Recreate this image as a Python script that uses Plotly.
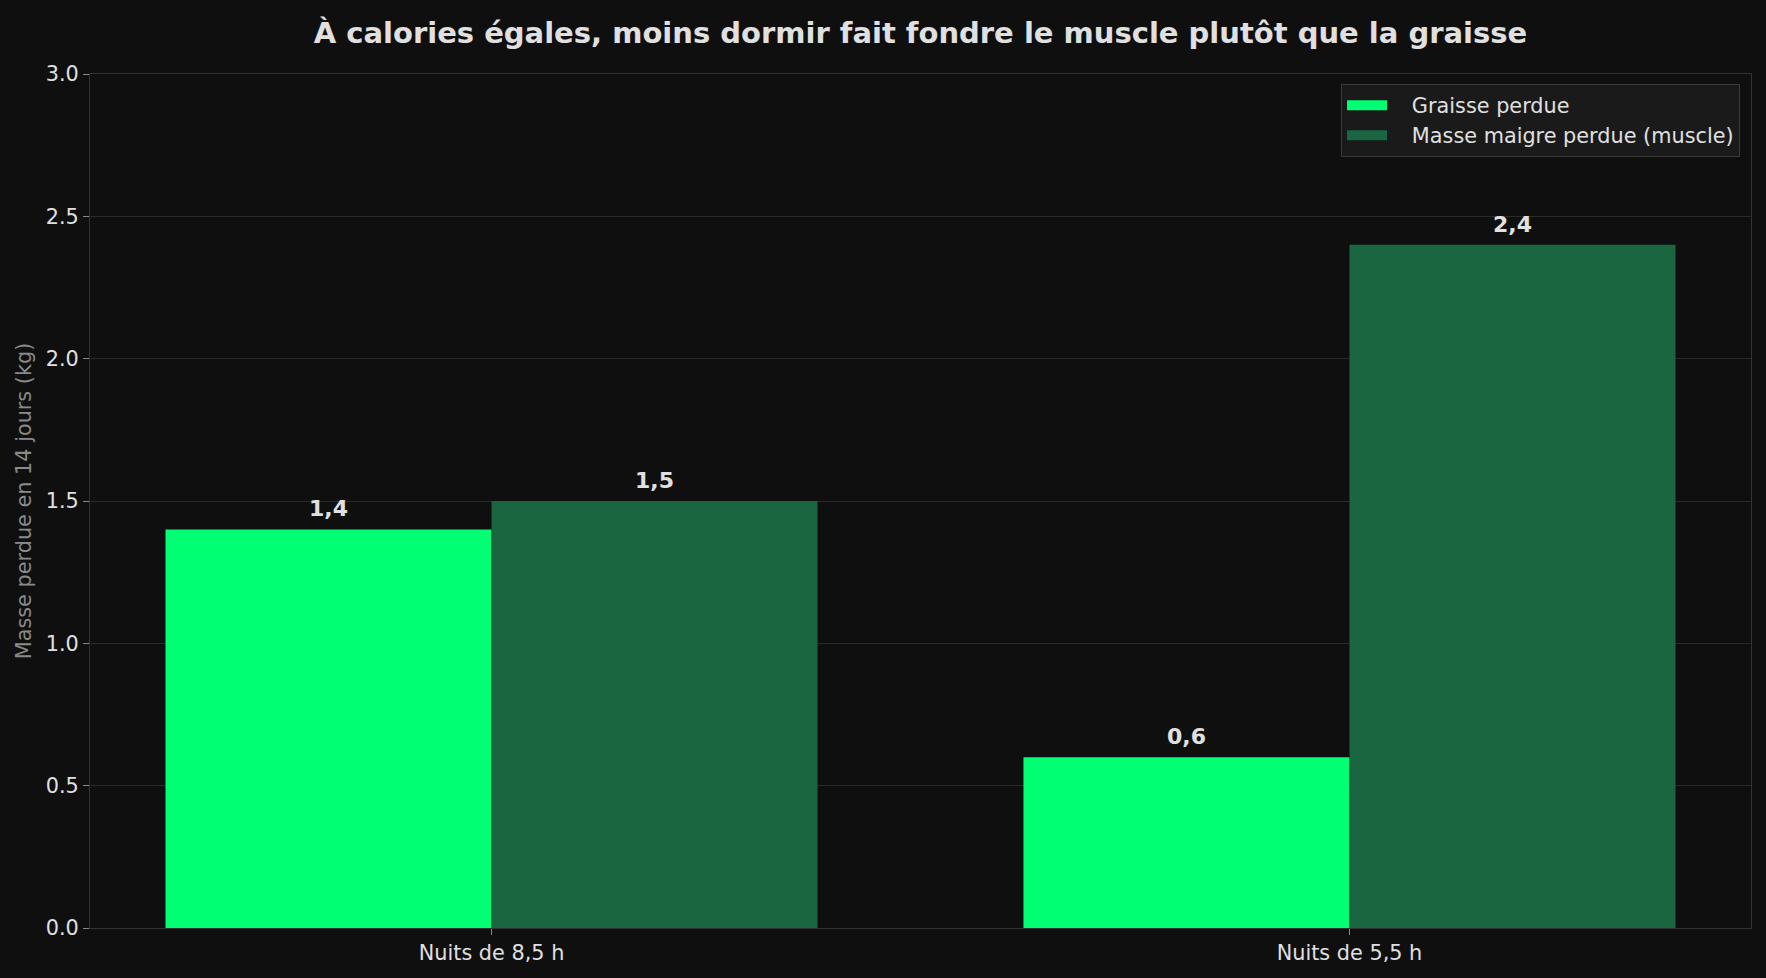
import plotly.graph_objects as go

categories = ["Nuits de 8,5 h", "Nuits de 5,5 h"]
fat_lost = [1.4, 0.6]
lean_lost = [1.5, 2.4]
series_names = ["Graisse perdue", "Masse maigre perdue (muscle)"]
colors = ["#00ff73", "#1a6641"]
title = "À calories égales, moins dormir fait fondre le muscle plutôt que la graisse"
y_title = "Masse perdue en 14 jours (kg)"
y_ticks = [0.0, 0.5, 1.0, 1.5, 2.0, 2.5, 3.0]

W, H = 1766, 978
FONT = "DejaVu Sans"
BG = "#0f0f0f"
TXT = "#e0e0e0"
FS = 20.8
PAD = "\u00a0\u00a0\u00a0"

xpos = list(range(len(categories)))
bw = 0.38

fig = go.Figure()
for name, vals, col, off in [(series_names[0], fat_lost, colors[0], -bw / 2),
                             (series_names[1], lean_lost, colors[1], bw / 2)]:
    fig.add_trace(go.Bar(
        x=[p + off for p in xpos], y=vals, width=bw, name=name,
        marker=dict(color=col, line=dict(width=0)), showlegend=False,
    ))
    # legend entry drawn as a wide rectangle (matplotlib-like patch)
    fig.add_trace(go.Scatter(
        x=[None], y=[None], mode="lines", name=PAD + name,
        line=dict(color=col, width=15), showlegend=True,
    ))
    for p, v in zip(xpos, vals):
        fig.add_annotation(
            x=p + off, y=v, text="<b>" + f"{v:.1f}".replace(".", ",") + "</b>",
            showarrow=False, yanchor="bottom", yshift=6,
            font=dict(family=FONT, size=22, color=TXT),
        )

fig.update_layout(
    width=W, height=H,
    paper_bgcolor=BG, plot_bgcolor=BG,
    margin=dict(l=90, r=15, t=74, b=50),
    font=dict(family=FONT, color=TXT),
    title=dict(text="<b>" + title + "</b>", x=0.5, xanchor="center", xref="paper",
               y=1 - 33 / H, yanchor="middle", yref="container",
               font=dict(family=FONT, size=29, color=TXT)),
    barmode="overlay",
    showlegend=True,
    legend=dict(x=0.9934, y=0.988, xanchor="right", yanchor="top",
                bgcolor="#1a1a1a", bordercolor="#3a3a3a", borderwidth=1,
                font=dict(family=FONT, size=FS, color=TXT),
                itemwidth=40, tracegroupgap=0),
)
fig.update_xaxes(
    range=[-0.468, 1.468], tickmode="array", tickvals=xpos, ticktext=categories,
    showgrid=False, zeroline=False,
    showline=True, linecolor="#333333", linewidth=1, mirror=True,
    ticks="outside", ticklen=6, tickcolor="#888888",
    tickfont=dict(family=FONT, size=FS, color=TXT),
)
fig.update_yaxes(
    range=[0, 3.0], tickmode="array", tickvals=y_ticks,
    ticktext=[f"{t:.1f}" for t in y_ticks],
    showgrid=True, gridcolor="#2a2a2a", gridwidth=1, zeroline=False,
    showline=True, linecolor="#333333", linewidth=1, mirror=True,
    ticks="outside", ticklen=6, tickcolor="#888888",
    tickfont=dict(family=FONT, size=FS, color=TXT),
    title=dict(text=y_title, font=dict(family=FONT, size=FS, color="#8a8a8a"), standoff=8),
)

fig.write_html("out.html")
